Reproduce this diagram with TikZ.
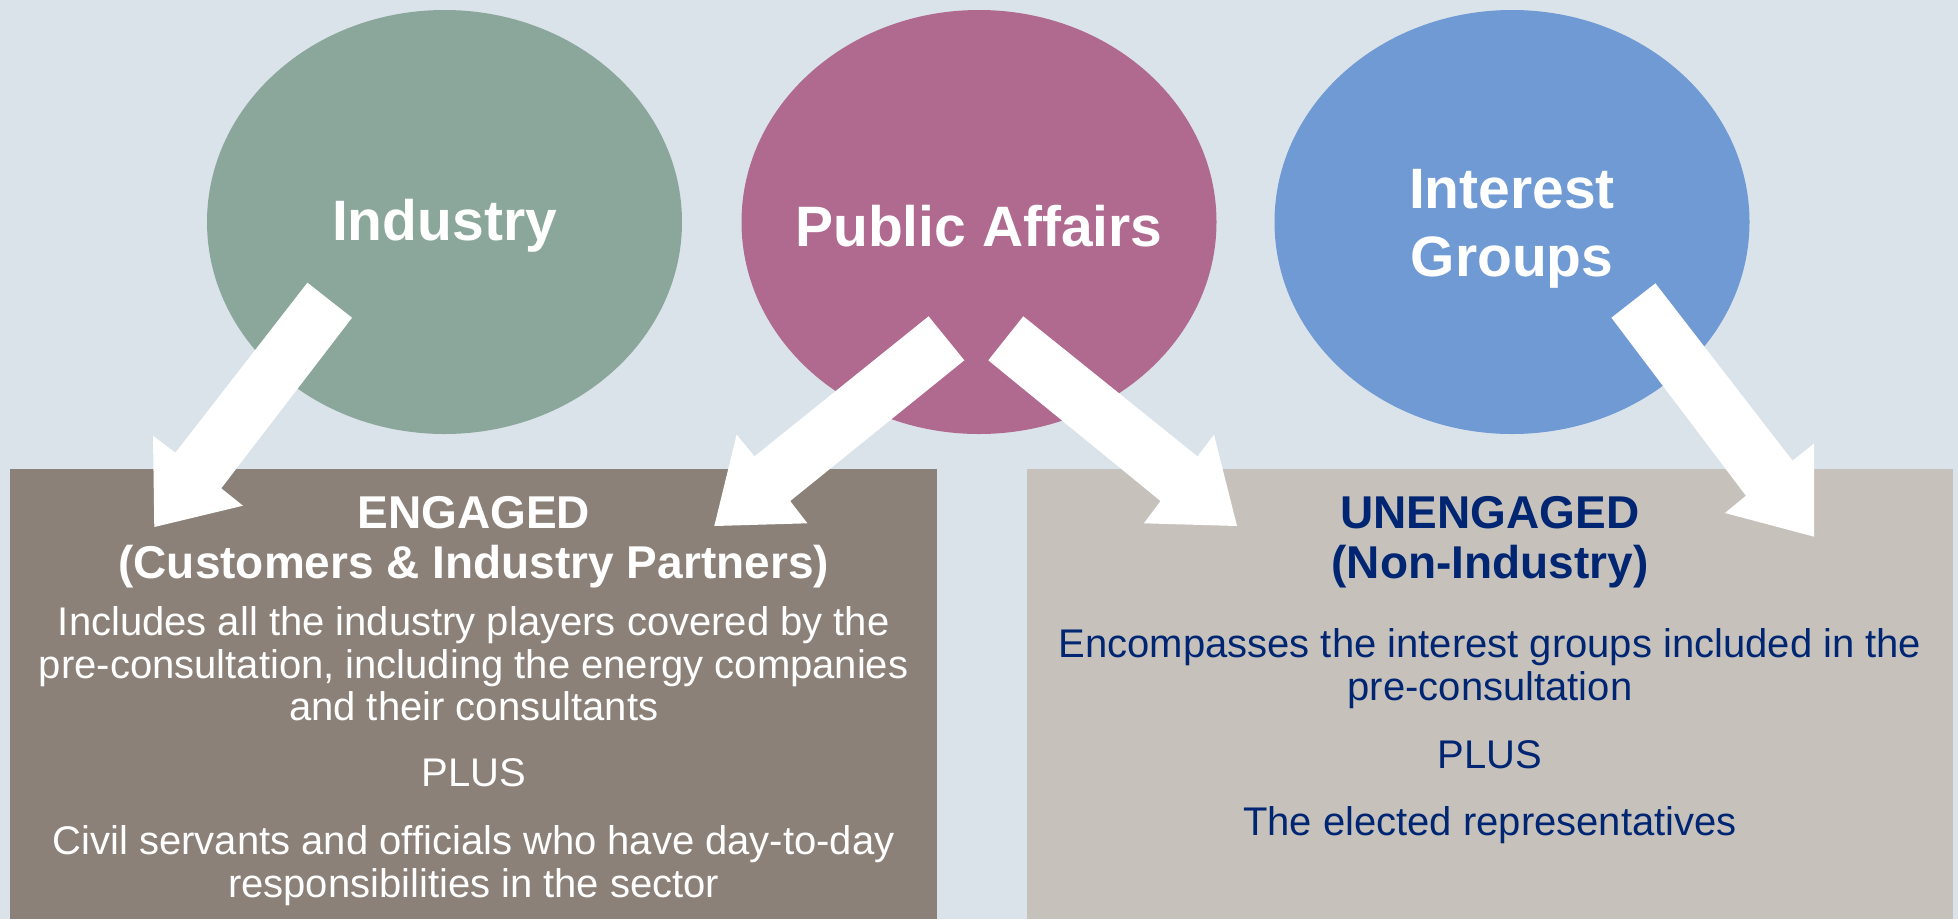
\documentclass[tikz,border=0pt]{standalone}
\usepackage{fontspec}
\setmainfont{Liberation Sans}
\usetikzlibrary{shapes.geometric}

\definecolor{bgcol}{RGB}{218,227,234}
\definecolor{indcol}{RGB}{139,167,156}
\definecolor{pubcol}{RGB}{176,106,144}
\definecolor{intcol}{RGB}{112,154,212}
\definecolor{engcol}{RGB}{139,129,120}
\definecolor{unengcol}{RGB}{198,194,187}
\definecolor{navy}{RGB}{0,38,115}

\tikzset{
  ell/.style={ellipse, inner sep=0pt, minimum width=475pt, minimum height=424pt},
  elltext/.style={text=white, inner sep=0pt, font=\fontsize{57}{68}\selectfont\bfseries, align=center},
  panel/.style={rectangle, inner sep=0pt, anchor=north west, minimum height=450pt},
  ttl/.style={align=center, inner sep=0pt, font=\fontsize{46}{50}\selectfont\bfseries},
  txt/.style={align=center, inner sep=0pt, font=\fontsize{40}{42.5}\selectfont},
  blockarrow/.style={fill=white}
}

\begin{document}
\begin{tikzpicture}[x=1pt, y=-1pt]
  % canvas
  \fill[bgcol] (0,0) rectangle (1958,919);
  \useasboundingbox (0,0) rectangle (1958,919);

  % lower panels
  \node[panel, fill=engcol, minimum width=927pt] (eng) at (10,469) {};
  \node[panel, fill=unengcol, minimum width=926pt] (uneng) at (1027,469) {};

  % three circles
  \node[ell, fill=indcol] (ind) at (444.5,222) {};
  \node[ell, fill=pubcol] (pub) at (979,222) {};
  \node[ell, fill=intcol] (int) at (1512,222) {};
  \node[elltext] (indl) at ([yshift=-4pt]ind.center) {Industry};
  \node[elltext] (publ) at ([yshift=-4pt]pub.center) {Public Affairs};
  \node[elltext] (intl) at ([yshift=-7pt]int.center) {Interest\\Groups};

  % block arrows
  \fill[blockarrow] (307.4,282.7) -- (352.0,317.7) -- (221.3,488.3) -- (243,505.7)
    -- (154.3,527) -- (153,435.7) -- (175.4,452.7) -- cycle;
  \fill[blockarrow] (928.6,316.3) -- (964.3,360.3) -- (790.2,501) -- (807.4,523.3)
    -- (714.3,526) -- (736.6,434.7) -- (754.5,456.3) -- cycle;
  \fill[blockarrow] (1023.3,316.3) -- (988.3,360.3) -- (1160.5,501) -- (1143.9,523.3)
    -- (1237,526) -- (1214,434.7) -- (1197.4,456.3) -- cycle;
  \fill[blockarrow] (1655.4,283.3) -- (1611.4,317.7) -- (1745.9,495.7) -- (1724.9,513)
    -- (1814.2,536.7) -- (1814.2,443.3) -- (1792.5,460.7) -- cycle;

  % engaged panel text
  \node[ttl, text=white] (engt) at (473.7,542) {ENGAGED\\(Customers \& Industry Partners)};
  \node[txt, text=white] (engb1) at (473.7,664) {Includes all the industry players covered by the\\pre-consultation, including the energy companies\\and their consultants};
  \node[txt, text=white] (engp) at (473.7,773) {PLUS};
  \node[txt, text=white] (engb2) at (473.7,865.5) {Civil servants and officials who have day-to-day\\responsibilities in the sector};

  % unengaged panel text
  \node[ttl, text=navy] (unengt) at (1490,542) {UNENGAGED\\(Non-Industry)};
  \node[txt, text=navy] (unengb1) at (1490,668.5) {Encompasses the interest groups included in the\\pre-consultation};
  \node[txt, text=navy] (unengp) at (1490,755) {PLUS};
  \node[txt, text=navy] (unengb2) at (1490,825) {The elected representatives};
\end{tikzpicture}
\end{document}
